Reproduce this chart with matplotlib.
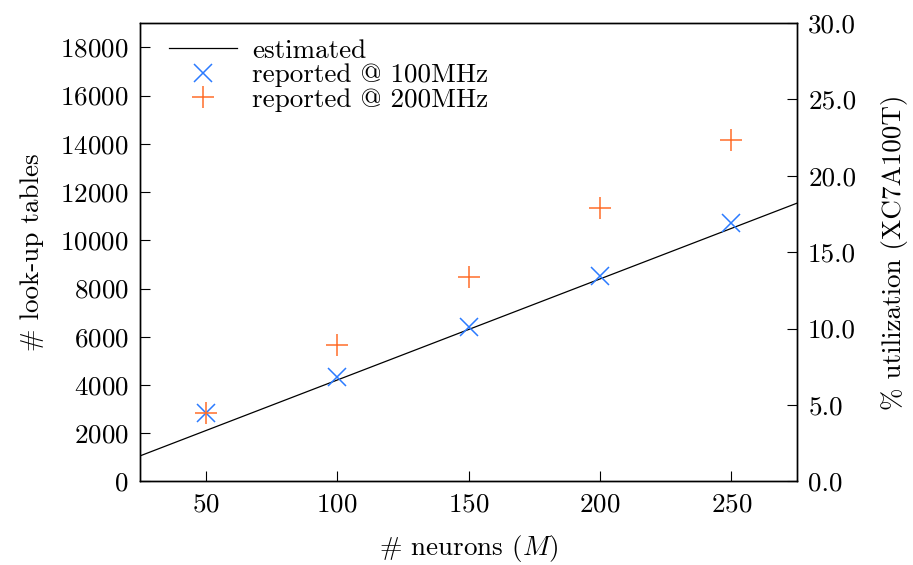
import matplotlib
matplotlib.use("Agg")
import matplotlib.pyplot as plt

plt.rcParams.update({
    "font.family": "serif",
    "font.serif": ["cmr10"],
    "mathtext.fontset": "cm",
    "axes.formatter.use_mathtext": True,
    "font.size": 19.5,
    "axes.linewidth": 1.0,
})

# data
neurons = [50, 100, 150, 200, 250]
lut_100mhz = [2830, 4320, 6420, 8530, 10720]
lut_200mhz = [2830, 5660, 8490, 11330, 14150]
est_neurons = [25, 275]
est_lut = [1060, 11540]

LUT_TOTAL = 63400  # XC7A100T
BLUE = "#2b7bff"
ORANGE = "#ff6e2a"

fig = plt.figure(figsize=(9.13, 5.65), dpi=100)
ax = fig.add_axes([0.1533, 0.1478, 0.7197, 0.812])

ax.plot(est_neurons, est_lut, color="black", lw=0.9, label="estimated")
ax.plot(neurons, lut_100mhz, ls="none", marker="x", ms=13, mew=1.1,
        color=BLUE, label="reported @ 100MHz")
ax.plot(neurons, lut_200mhz, ls="none", marker="+", ms=16, mew=1.1,
        color=ORANGE, label="reported @ 200MHz")

ymax = 0.30 * LUT_TOTAL
ax.set_xlim(25, 275)
ax.set_ylim(0, ymax)
ax.set_xticks(neurons)
ax.set_yticks(range(0, 18001, 2000))
ax.tick_params(direction="in", length=7, width=0.8, top=False, right=False, pad=8)
ax.set_xlabel(r"# neurons ($M$)", labelpad=12)
ax.set_ylabel("# look-up tables", labelpad=12)

ax2 = ax.twinx()
ax2.set_ylim(0, 30)
ax2.set_yticks(range(0, 31, 5))
ax2.set_yticklabels([f"{v:.1f}" for v in range(0, 31, 5)])
ax2.tick_params(direction="in", length=7, width=0.8, pad=8)
ax2.set_ylabel("% utilization (XC7A100T)", labelpad=18)

ax.legend(loc="upper left", frameon=False, handlelength=2.5, handletextpad=0.55,
          labelspacing=0.02, borderaxespad=0.2, bbox_to_anchor=(0.02, 1.0))

fig.savefig("out.png", dpi=100)
